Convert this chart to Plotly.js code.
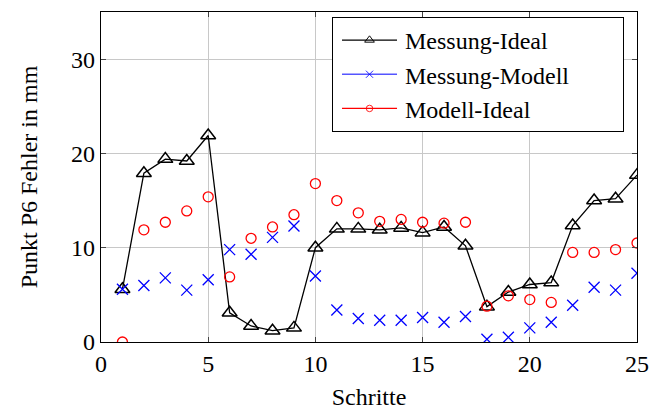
<!DOCTYPE html>
<html><head><meta charset="utf-8">
<script src="https://cdn.plot.ly/plotly-3.0.1.min.js"></script>
<style>html,body{margin:0;padding:0;background:#fff}</style>
</head><body>
<div id="chart" style="width:662px;height:413px"></div>
<script>
const schritte = [1,2,3,4,5,6,7,8,9,10,11,12,13,14,15,16,17,18,19,20,21,22,23,24,25];
const messungIdeal = [5.6,17.9,19.4,19.2,21.9,3.1,1.7,1.2,1.5,10.0,12.0,12.0,11.9,12.1,11.6,12.2,10.2,3.75,5.3,6.1,6.3,12.35,15.0,15.2,17.7];
const messungModell = [5.6,6.0,6.8,5.5,6.6,9.8,9.3,11.1,12.3,7.0,3.4,2.5,2.3,2.3,2.6,2.1,2.7,0.3,0.5,1.5,2.1,3.9,5.8,5.5,7.3];
const modellIdeal = [0.0,11.9,12.7,13.9,15.4,6.9,11.0,12.2,13.5,16.8,15.0,13.7,12.8,13.0,12.7,12.6,12.7,3.8,4.9,4.5,4.2,9.5,9.5,9.8,10.5];
const seriesNames = ['Messung-Ideal','Messung-Modell','Modell-Ideal'];

const FAM = 'Liberation Serif, Times New Roman, serif';
const fnt = (s)=>({family:FAM, size:s, color:'#000'});

const traces = [
  {x:schritte, y:messungIdeal, name:seriesNames[0], mode:'lines+markers',
   line:{color:'#000', width:1.3},
   marker:{symbol:'triangle-up-open', size:13, color:'#000', line:{width:1.5, color:'#000'}}},
  {x:schritte, y:messungModell, name:seriesNames[1], mode:'lines+markers',
   line:{color:'rgba(0,0,0,0)', width:1.3},
   marker:{symbol:'x-thin-open', size:11, color:'#0000ff', line:{width:1.3, color:'#0000ff'}}},
  {x:schritte, y:modellIdeal, name:seriesNames[2], mode:'lines+markers',
   line:{color:'rgba(0,0,0,0)', width:1.3},
   marker:{symbol:'circle-open', size:10, color:'#ff0000', line:{width:1.3, color:'#ff0000'}}}
];

const layout = {
  width:662, height:413,
  margin:{l:101, r:25, t:12, b:71},
  paper_bgcolor:'#fff', plot_bgcolor:'#fff',
  font:fnt(24),
  showlegend:true,
  legend:{x:0.431, y:0.985, xanchor:'left', yanchor:'top',
    bgcolor:'#fff', bordercolor:'#000', borderwidth:1,
    font:fnt(24), tracegroupgap:0, itemwidth:62},
  xaxis:{range:[0,25], tickvals:[0,5,10,15,20,25], ticks:'inside', ticklen:5,
    showgrid:true, gridcolor:'#c8c8c8', gridwidth:1, zeroline:false,
    showline:true, linecolor:'#000', linewidth:1.3, mirror:'ticks',
    tickfont:fnt(24),
    title:{text:'Schritte', font:fnt(24), standoff:12}},
  yaxis:{range:[0,35], tickvals:[0,10,20,30], ticks:'inside', ticklen:5,
    showgrid:true, gridcolor:'#c8c8c8', gridwidth:1, zeroline:false,
    showline:true, linecolor:'#000', linewidth:1.3, mirror:'ticks',
    tickfont:fnt(24),
    title:{text:'Punkt P6 Fehler in mm', font:fnt(24), standoff:26}}
};
Plotly.newPlot('chart', traces, layout, {staticPlot:true, displayModeBar:false}).then(()=>{
  const cols = ['#000','#5555ff','#ff0000'];
  document.querySelectorAll('.legend .traces').forEach((tr,i)=>{
    const ln = tr.querySelector('.js-line');
    if (ln) { ln.setAttribute('d','M9,0h55'); ln.style.stroke = cols[i]; ln.style.strokeOpacity = 1; }
    tr.querySelectorAll('.legendpoints path.scatterpts').forEach(p=>{
      p.setAttribute('transform','translate(36.5,0) scale(0.65)');
    });
  });
  const bg = document.querySelector('.legend .bg');
  if (bg) { bg.setAttribute('width', 291); }
});
</script>
</body></html>
